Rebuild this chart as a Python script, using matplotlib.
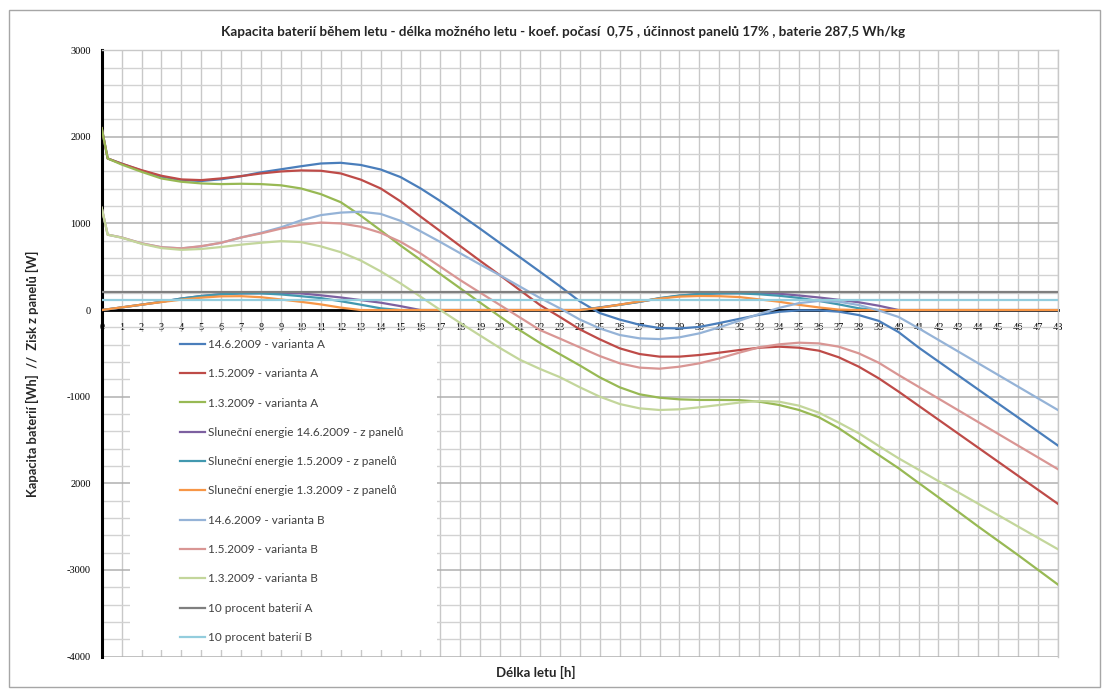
import matplotlib
matplotlib.use("Agg")
import matplotlib.pyplot as plt
from matplotlib.patches import Rectangle
from matplotlib.ticker import MultipleLocator

# ---------------- data ----------------
hours = [0, 0.3, 1, 2, 3, 4, 5, 6, 7, 8, 9, 10, 11, 12, 13, 14, 15, 16, 17, 18, 19, 20,
         21, 22, 23, 24, 25, 26, 27, 28, 29, 30, 31, 32, 33, 34, 35, 36, 37, 38, 39, 40,
         41, 42, 43, 44, 45, 46, 47, 48]

a_14_6 = [2100, 1750,
          1690, 1610, 1540, 1500, 1490, 1510, 1545, 1590, 1625, 1660, 1692, 1700,
          1675, 1623, 1535, 1405, 1258, 1100, 938, 772, 608, 442, 275, 100,
          -35, -110, -170, -208, -212, -195, -150, -102, -55, -20, -4, -4,
          -19, -58, -125, -255, -432, -594, -756, -918, -1080, -1241, -1403, -1565]
a_1_5 = [2100, 1750,
         1690, 1615, 1550, 1508, 1500, 1520, 1546, 1577, 1600, 1612, 1608, 1577,
         1506, 1404, 1255, 1080, 910, 738, 567, 400, 228, 58, -80, -223,
         -338, -442, -508, -538, -538, -519, -492, -462, -435, -423, -435, -469,
         -546, -654, -788, -942, -1104, -1266, -1428, -1590, -1752, -1914, -2076, -2238]
a_1_3 = [2100, 1750,
         1680, 1596, 1519, 1481, 1462, 1454, 1458, 1454, 1440, 1404, 1338, 1245,
         1090, 920, 745, 580, 415, 250, 85, -77, -235, -380, -510, -640,
         -777, -892, -973, -1012, -1031, -1038, -1038, -1040, -1058, -1096, -1154, -1238,
         -1365, -1519, -1673, -1827, -1995, -2162, -2330, -2500, -2665, -2830, -3000, -3170]
sun_14_6 = [0, 9,
            30, 62, 95, 133, 162, 183, 192, 195, 194, 192, 170, 145,
            115, 85, 45, 0, 0, 0, 0, 0, 0, 0, 0, 0,
            30, 62, 95, 135, 165, 185, 193, 196, 194, 188, 168, 145,
            118, 90, 50, 0, 0, 0, 0, 0, 0, 0, 0, 0]
sun_1_5 = [0, 9,
           30, 62, 95, 133, 162, 183, 192, 192, 180, 160, 138, 102,
           62, 20, 0, 0, 0, 0, 0, 0, 0, 0, 0, 0,
           28, 60, 95, 138, 168, 185, 192, 192, 182, 165, 140, 105,
           65, 20, 0, 0, 0, 0, 0, 0, 0, 0, 0, 0]
sun_1_3 = [0, 9,
           31, 62, 92, 120, 143, 158, 160, 148, 122, 95, 65, 28,
           0, 0, 0, 0, 0, 0, 0, 0, 0, 0, 0, 0,
           25, 62, 100, 132, 155, 162, 160, 150, 123, 96, 60, 30,
           5, 0, 0, 0, 0, 0, 0, 0, 0, 0, 0, 0]
b_14_6 = [1180, 870,
          838, 770, 725, 712, 735, 777, 838, 892, 955, 1035, 1096, 1125,
          1135, 1110, 1030, 910, 785, 655, 525, 400, 270, 140, 20, -110,
          -212, -288, -327, -335, -315, -269, -200, -123, -46, 25, 80, 105,
          96, 58, -5, -80, -210, -345, -480, -615, -750, -885, -1020, -1155]
b_1_5 = [1180, 870,
         838, 770, 725, 712, 738, 777, 838, 885, 940, 985, 1010, 1000,
         962, 892, 788, 654, 500, 345, 200, 57, -87, -231, -330, -431,
         -531, -615, -665, -677, -654, -615, -558, -492, -431, -396, -377, -385,
         -423, -500, -608, -750, -886, -1022, -1158, -1294, -1430, -1566, -1702, -1838]
b_1_3 = [1180, 870,
         835, 765, 715, 695, 705, 728, 755, 777, 795, 785, 735, 668,
         572, 447, 308, 155, 0, -150, -295, -440, -575, -680, -775, -892,
         -1000, -1085, -1135, -1154, -1146, -1123, -1096, -1069, -1050, -1058, -1104, -1185,
         -1300, -1423, -1569, -1712, -1843, -1975, -2106, -2237, -2368, -2500, -2631, -2762]
reserve_a = 210
reserve_b = 118

labels = ["14.6.2009 - varianta A", "1.5.2009 - varianta A", "1.3.2009 - varianta A",
          "Sluneční energie 14.6.2009 - z panelů", "Sluneční energie 1.5.2009 - z panelů",
          "Sluneční energie 1.3.2009 - z panelů", "14.6.2009 - varianta B",
          "1.5.2009 - varianta B", "1.3.2009 - varianta B",
          "10 procent baterií A", "10 procent baterií B"]
colors = ["#4A7EBB", "#BE4B48", "#98B954", "#7D60A0", "#4198AF", "#F79646",
          "#95B3D7", "#D99694", "#C3D69B", "#7F7F7F", "#93CDDD"]

x_ticks = list(range(0, 49))
y_ticks = [-4000, -3000, -2000, -1000, 0, 1000, 2000, 3000]
y_tick_labels = ["-4000", "-3000", "2000", "-1000", "0", "1000", "2000", "3000"]

title = ("Kapacita baterií během letu - délka možného letu - koef. počasí  0,75 , "
         "účinnost panelů 17% , baterie 287,5 Wh/kg")
xlabel = "Délka letu [h]"
ylabel = "Kapacita baterií [Wh]  //  Zisk z panelů [W]"

# ---------------- figure ----------------
FONT = ["Lato", "DejaVu Sans"]
plt.rcParams["font.family"] = FONT

W, H = 1107, 693
fig = plt.figure(figsize=(W / 100, H / 100), dpi=100)
fig.patch.set_facecolor("white")

left_px, right_px, top_px, bottom_px = 101.7, 1058.0, 50.2, 656.5
ax = fig.add_axes([left_px / W, 1 - bottom_px / H,
                   (right_px - left_px) / W, (bottom_px - top_px) / H])
ax.set_xlim(0, 48)
ax.set_ylim(-4000, 3000)

series = [a_14_6, a_1_5, a_1_3, sun_14_6, sun_1_5, sun_1_3, b_14_6, b_1_5, b_1_3]
for vals, lab, col in zip(series, labels[:9], colors[:9]):
    ax.plot(hours, vals, color=col, lw=1.6, label=lab, zorder=3)
for val, lab, col in zip([reserve_a, reserve_b], labels[9:], colors[9:]):
    ax.plot([hours[0], hours[-1]], [val, val], color=col, lw=1.6, label=lab, zorder=3)

# grid
ax.set_xticks(x_ticks)
ax.set_yticks(y_ticks)
ax.set_yticklabels(y_tick_labels)
ax.yaxis.set_minor_locator(MultipleLocator(200))
ax.grid(which="major", axis="x", color="#c8c8c8", lw=1.0, zorder=0)
ax.grid(which="major", axis="y", color="#b0b0b0", lw=1.1, zorder=0)
ax.grid(which="minor", axis="y", color="#d2d2d2", lw=1.0, zorder=0)
ax.set_axisbelow(True)

for s in ["top", "right"]:
    ax.spines[s].set_color("#c8c8c8")
    ax.spines[s].set_linewidth(1.0)
ax.spines["bottom"].set_position(("data", 0))
ax.spines["bottom"].set_color("black")
ax.spines["bottom"].set_linewidth(2.0)
ax.spines["bottom"].set_zorder(2)
ax.spines["left"].set_color("black")
ax.spines["left"].set_linewidth(2.2)

ax.tick_params(axis="x", which="both", length=0, pad=9, labelsize=7.5)
ax.tick_params(axis="y", which="both", length=0, pad=8, labelsize=7.5)
for t in ax.get_xticklabels() + ax.get_yticklabels():
    t.set_fontfamily(["Liberation Serif", "DejaVu Serif"])

# white legend area
x0, y0, x1, y1 = 130, 332, 437, 650
ax.add_patch(Rectangle(((x0 - left_px) / (right_px - left_px), (bottom_px - y1) / (bottom_px - top_px)),
                       (x1 - x0) / (right_px - left_px), (y1 - y0) / (bottom_px - top_px),
                       transform=ax.transAxes, facecolor="white", edgecolor="none", zorder=1.8))

leg = ax.legend(loc="upper left", bbox_to_anchor=(180 / W, 1 - 339 / H),
                bbox_transform=fig.transFigure, frameon=False, fontsize=8.5,
                handlelength=2.1, labelspacing=1.55, handletextpad=0.3,
                borderaxespad=0, borderpad=0)
for t in leg.get_texts():
    t.set_color("#404040")

fig.text(563 / W, 1 - 31.7 / H, title, ha="center", va="center",
         fontsize=9.7, fontweight="bold", color="#262626")
fig.text(536 / W, 1 - 672 / H, xlabel, ha="center", va="center",
         fontsize=9.5, fontweight="bold", color="#262626")
fig.text(32 / W, 1 - 374 / H, ylabel, ha="center", va="center", rotation=90,
         fontsize=9.3, fontweight="bold", color="#262626")

fig.add_artist(Rectangle((9 / W, 1 - 687 / H), (1100 - 9) / W, (687 - 10) / H,
                         transform=fig.transFigure, fill=False,
                         edgecolor="#a6a6a6", lw=1.0))

fig.savefig("out.png", dpi=100, facecolor="white")
